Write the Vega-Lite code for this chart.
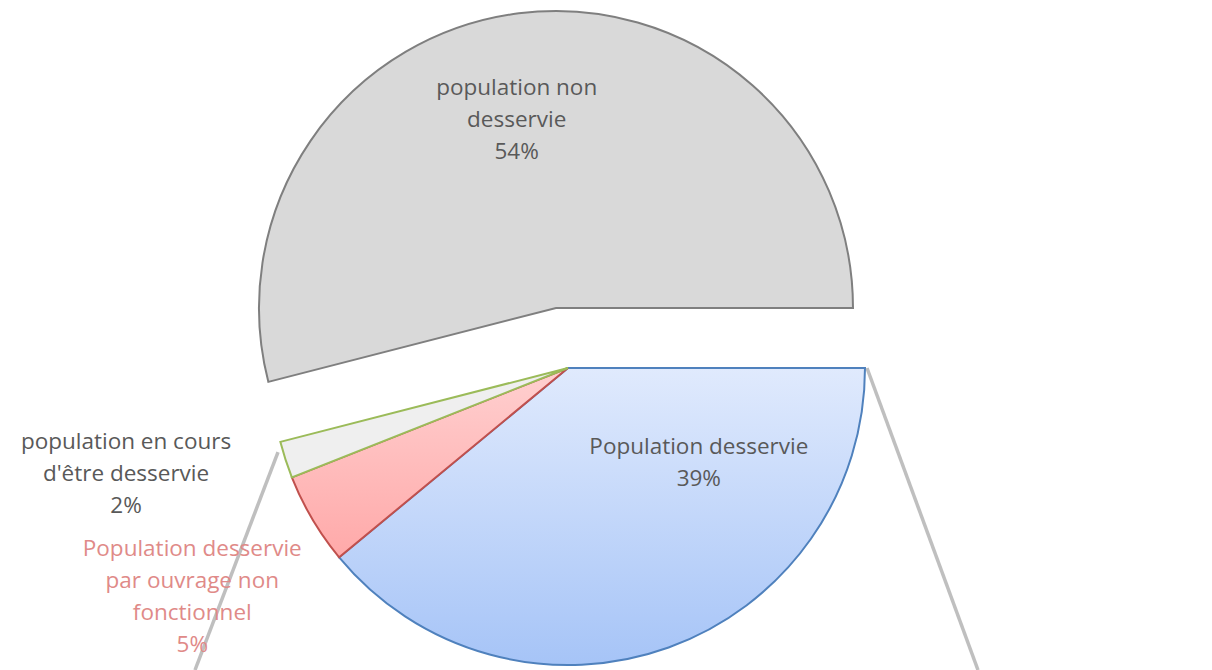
{
  "$schema": "https://vega.github.io/schema/vega-lite/v6.json",
  "width": 1212,
  "height": 670,
  "autosize": {"type": "none"},
  "padding": 0,
  "background": "white",
  "config": {"view": {"stroke": null}},
  "data": {
    "values": [
      {"cat": "desservie", "label": "Population desservie\n39%", "value": 39, "ord": 1},
      {"cat": "non_fonctionnel", "label": "Population desservie\npar ouvrage non\nfonctionnel\n5%", "value": 5, "ord": 2},
      {"cat": "en_cours", "label": "population en cours\nd'être desservie\n2%", "value": 2, "ord": 3},
      {"cat": "non_desservie", "label": "population non\ndesservie\n54%", "value": 54, "ord": 4}
    ]
  },
  "layer": [
    {
      "data": {
        "values": [
          {"x": -0.9764, "y": -0.2828, "x2": -1.2559, "y2": -1.0168},
          {"x": 1.0067, "y": 0, "x2": 1.3805, "y2": -1.0168}
        ]
      },
      "mark": {"type": "rule", "stroke": "#bfbfbf", "strokeWidth": 3.5},
      "encoding": {
        "x": {"field": "x", "type": "quantitative", "scale": {"domain": [-1.9125, 2.1684], "nice": false, "zero": false}, "axis": null},
        "y": {"field": "y", "type": "quantitative", "scale": {"domain": [-1.0168, 1.2391], "nice": false, "zero": false}, "axis": null},
        "x2": {"field": "x2"},
        "y2": {"field": "y2"}
      }
    },
    {
      "mark": {"type": "arc", "outerRadius": 297, "stroke": "#4f81bd", "strokeWidth": 2,
        "fill": {"gradient": "linear", "x1": 0, "y1": 0, "x2": 0, "y2": 1, "stops": [{"offset": 0, "color": "#e0eafd"}, {"offset": 1, "color": "#a6c4f7"}]}},
      "encoding": {
        "x": {"datum": 0, "type": "quantitative", "scale": {"domain": [-1.9125, 2.1684], "nice": false, "zero": false}, "axis": null},
        "y": {"datum": 0, "type": "quantitative", "scale": {"domain": [-1.0168, 1.2391], "nice": false, "zero": false}, "axis": null},
        "theta": {"field": "value", "type": "quantitative", "stack": true, "scale": {"range": [1.5707963, 7.8539816]}},
        "order": {"field": "ord", "type": "quantitative"},
        "opacity": {"condition": {"test": "datum.cat === 'desservie'", "value": 1}, "value": 0}
      }
    },
    {
      "mark": {"type": "arc", "outerRadius": 297, "stroke": "#c0504d", "strokeWidth": 2,
        "fill": {"gradient": "linear", "x1": 0, "y1": 0, "x2": 0, "y2": 1, "stops": [{"offset": 0, "color": "#ffd0d0"}, {"offset": 1, "color": "#ffa9a9"}]}},
      "encoding": {
        "x": {"datum": 0, "type": "quantitative", "scale": {"domain": [-1.9125, 2.1684], "nice": false, "zero": false}, "axis": null},
        "y": {"datum": 0, "type": "quantitative", "scale": {"domain": [-1.0168, 1.2391], "nice": false, "zero": false}, "axis": null},
        "theta": {"field": "value", "type": "quantitative", "stack": true, "scale": {"range": [1.5707963, 7.8539816]}},
        "order": {"field": "ord", "type": "quantitative"},
        "opacity": {"condition": {"test": "datum.cat === 'non_fonctionnel'", "value": 1}, "value": 0}
      }
    },
    {
      "mark": {"type": "arc", "outerRadius": 297, "stroke": "#9bbb59", "strokeWidth": 2, "fill": "#efefef"},
      "encoding": {
        "x": {"datum": 0, "type": "quantitative", "scale": {"domain": [-1.9125, 2.1684], "nice": false, "zero": false}, "axis": null},
        "y": {"datum": 0, "type": "quantitative", "scale": {"domain": [-1.0168, 1.2391], "nice": false, "zero": false}, "axis": null},
        "theta": {"field": "value", "type": "quantitative", "stack": true, "scale": {"range": [1.5707963, 7.8539816]}},
        "order": {"field": "ord", "type": "quantitative"},
        "opacity": {"condition": {"test": "datum.cat === 'en_cours'", "value": 1}, "value": 0}
      }
    },
    {
      "mark": {"type": "arc", "outerRadius": 297, "stroke": "#7f7f7f", "strokeWidth": 2, "fill": "#d9d9d9", "xOffset": -12, "yOffset": -60},
      "encoding": {
        "x": {"datum": 0, "type": "quantitative", "scale": {"domain": [-1.9125, 2.1684], "nice": false, "zero": false}, "axis": null},
        "y": {"datum": 0, "type": "quantitative", "scale": {"domain": [-1.0168, 1.2391], "nice": false, "zero": false}, "axis": null},
        "theta": {"field": "value", "type": "quantitative", "stack": true, "scale": {"range": [1.5707963, 7.8539816]}},
        "order": {"field": "ord", "type": "quantitative"},
        "opacity": {"condition": {"test": "datum.cat === 'non_desservie'", "value": 1}, "value": 0}
      }
    },
    {
      "mark": {"type": "text", "font": "Open Sans", "fontSize": 22.5, "lineBreak": "\n", "lineHeight": 32, "fill": "#595959", "align": "center", "baseline": "middle", "radius": 150, "dx": 80, "dy": -62},
      "encoding": {
        "x": {"datum": 0, "type": "quantitative", "scale": {"domain": [-1.9125, 2.1684], "nice": false, "zero": false}, "axis": null},
        "y": {"datum": 0, "type": "quantitative", "scale": {"domain": [-1.0168, 1.2391], "nice": false, "zero": false}, "axis": null},
        "theta": {"field": "value", "type": "quantitative", "stack": true, "scale": {"range": [1.5707963, 7.8539816]}},
        "order": {"field": "ord", "type": "quantitative"},
        "text": {"condition": {"test": "datum.cat === 'desservie'", "field": "label", "type": "nominal"}, "value": ""}
      }
    },
    {
      "mark": {"type": "text", "font": "Open Sans", "fontSize": 22.5, "lineBreak": "\n", "lineHeight": 32, "fill": "#e08a88", "align": "center", "baseline": "middle", "radius": 440, "dx": 3, "dy": -43},
      "encoding": {
        "x": {"datum": 0, "type": "quantitative", "scale": {"domain": [-1.9125, 2.1684], "nice": false, "zero": false}, "axis": null},
        "y": {"datum": 0, "type": "quantitative", "scale": {"domain": [-1.0168, 1.2391], "nice": false, "zero": false}, "axis": null},
        "theta": {"field": "value", "type": "quantitative", "stack": true, "scale": {"range": [1.5707963, 7.8539816]}},
        "order": {"field": "ord", "type": "quantitative"},
        "text": {"condition": {"test": "datum.cat === 'non_fonctionnel'", "field": "label", "type": "nominal"}, "value": ""}
      }
    },
    {
      "mark": {"type": "text", "font": "Open Sans", "fontSize": 22.5, "lineBreak": "\n", "lineHeight": 32, "fill": "#595959", "align": "center", "baseline": "middle", "radius": 450, "dx": -14, "dy": -65},
      "encoding": {
        "x": {"datum": 0, "type": "quantitative", "scale": {"domain": [-1.9125, 2.1684], "nice": false, "zero": false}, "axis": null},
        "y": {"datum": 0, "type": "quantitative", "scale": {"domain": [-1.0168, 1.2391], "nice": false, "zero": false}, "axis": null},
        "theta": {"field": "value", "type": "quantitative", "stack": true, "scale": {"range": [1.5707963, 7.8539816]}},
        "order": {"field": "ord", "type": "quantitative"},
        "text": {"condition": {"test": "datum.cat === 'en_cours'", "field": "label", "type": "nominal"}, "value": ""}
      }
    },
    {
      "mark": {"type": "text", "font": "Open Sans", "fontSize": 22.5, "lineBreak": "\n", "lineHeight": 32, "fill": "#595959", "align": "center", "baseline": "middle", "radius": 250, "dx": -20, "dy": -32},
      "encoding": {
        "x": {"datum": 0, "type": "quantitative", "scale": {"domain": [-1.9125, 2.1684], "nice": false, "zero": false}, "axis": null},
        "y": {"datum": 0, "type": "quantitative", "scale": {"domain": [-1.0168, 1.2391], "nice": false, "zero": false}, "axis": null},
        "theta": {"field": "value", "type": "quantitative", "stack": true, "scale": {"range": [1.5707963, 7.8539816]}},
        "order": {"field": "ord", "type": "quantitative"},
        "text": {"condition": {"test": "datum.cat === 'non_desservie'", "field": "label", "type": "nominal"}, "value": ""}
      }
    }
  ]
}
